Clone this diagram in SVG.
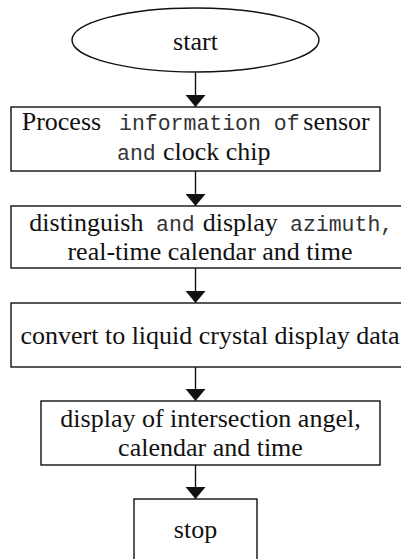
<svg xmlns="http://www.w3.org/2000/svg" width="401" height="559" viewBox="0 0 401 559">
  <style>
    .shape { fill: #ffffff; stroke: #111111; stroke-width: 1.4; }
    .edge { fill: none; stroke: #111111; stroke-width: 1.4; }
    .t { font-family: "Liberation Serif", "Times New Roman", "DejaVu Serif", serif; font-size: 26px; fill: #111111; }
    .m { font-family: "Liberation Mono", "Courier New", monospace; font-size: 21.5px; fill: #333333; }
  </style>
  <defs>
    <marker id="arrow" viewBox="0 0 12 20" refX="12" refY="10" markerWidth="12" markerHeight="20" markerUnits="userSpaceOnUse" orient="auto">
      <path d="M0,0 L12,10 L0,20 Z" fill="#111111"/>
    </marker>
  </defs>
  <rect width="401" height="559" fill="#ffffff"/>

  <g id="connectors">
    <line class="edge" x1="195.5" y1="72" x2="195.5" y2="107" marker-end="url(#arrow)"/>
    <line class="edge" x1="195.5" y1="171" x2="195.5" y2="206" marker-end="url(#arrow)"/>
    <line class="edge" x1="195.5" y1="268" x2="195.5" y2="303" marker-end="url(#arrow)"/>
    <line class="edge" x1="195.5" y1="367" x2="195.5" y2="401" marker-end="url(#arrow)"/>
    <line class="edge" x1="195.5" y1="465" x2="195.5" y2="499" marker-end="url(#arrow)"/>
  </g>

  <g id="start">
    <ellipse class="shape" cx="195.5" cy="40" rx="123.5" ry="32"/>
    <text class="t" x="195.5" y="50" text-anchor="middle">start</text>
  </g>

  <g id="process">
    <rect class="shape" x="11" y="107" width="369" height="64"/>
    <text y="130"><tspan class="t" x="21.7">Process</tspan><tspan class="m" x="119">information of</tspan><tspan class="t" x="303.3">sensor</tspan></text>
    <text y="160"><tspan class="m" x="117">and</tspan><tspan class="t" x="163">clock chip</tspan></text>
  </g>

  <g id="distinguish">
    <rect class="shape" x="11" y="206" width="398" height="62"/>
    <text y="231"><tspan class="t" x="29.3">distinguish</tspan><tspan class="m" x="156">and</tspan><tspan class="t" x="202.7">display</tspan><tspan class="m" x="290">azimuth,</tspan></text>
    <text class="t" x="210" y="260" text-anchor="middle">real-time calendar and time</text>
  </g>

  <g id="convert">
    <rect class="shape" x="11" y="303" width="398" height="64"/>
    <text class="t" x="210" y="343.5" text-anchor="middle">convert to liquid crystal display data</text>
  </g>

  <g id="display">
    <rect class="shape" x="41" y="401" width="339" height="64"/>
    <text class="t" x="210.5" y="427" text-anchor="middle">display of intersection angel,</text>
    <text class="t" x="210.5" y="456" text-anchor="middle">calendar and time</text>
  </g>

  <g id="stop">
    <rect class="shape" x="134" y="499" width="123" height="66"/>
    <text class="t" x="195.5" y="538" text-anchor="middle">stop</text>
  </g>
</svg>
